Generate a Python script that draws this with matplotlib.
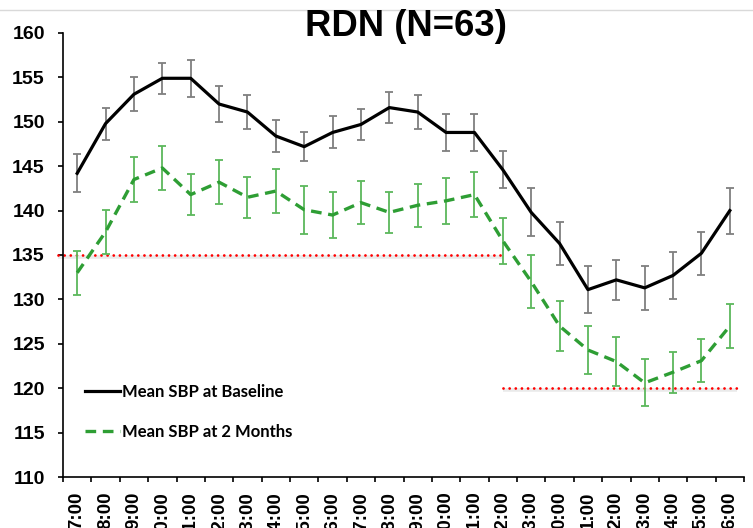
import matplotlib
matplotlib.use("Agg")
import matplotlib.pyplot as plt
from matplotlib.lines import Line2D

# ── Data: hourly mean SBP (mmHg) with error bars ─────────────────
HOURS = ["7:00", "8:00", "9:00", "10:00", "11:00", "12:00", "13:00", "14:00",
         "15:00", "16:00", "17:00", "18:00", "19:00", "20:00", "21:00", "22:00",
         "23:00", "0:00", "1:00", "2:00", "3:00", "4:00", "5:00", "6:00"]

sbp_baseline = [144.2, 149.8, 153.1, 154.9, 154.9, 152.0, 151.1, 148.4,
                147.2, 148.8, 149.7, 151.6, 151.1, 148.8, 148.8, 144.6,
                139.8, 136.3, 131.1, 132.2, 131.3, 132.7, 135.2, 140.0]
err_baseline = [2.15, 1.8, 1.9, 1.75, 2.1, 2.05, 1.9, 1.75,
                1.65, 1.8, 1.7, 1.7, 1.95, 2.1, 2.1, 2.1,
                2.7, 2.4, 2.65, 2.25, 2.5, 2.6, 2.4, 2.6]

sbp_2months = [133.0, 137.6, 143.5, 144.8, 141.8, 143.2, 141.5, 142.2,
               140.1, 139.5, 140.9, 139.8, 140.6, 141.1, 141.8, 136.6,
               132.0, 127.0, 124.3, 123.0, 120.6, 121.8, 123.1, 127.0]
err_2months = [2.45, 2.45, 2.55, 2.45, 2.35, 2.5, 2.3, 2.45,
               2.7, 2.6, 2.45, 2.35, 2.45, 2.6, 2.55, 2.6,
               3.0, 2.85, 2.7, 2.75, 2.65, 2.3, 2.45, 2.45]

# reference thresholds (day / night)
DAY_REF, NIGHT_REF = 135, 120

BOLD_FONT = "Liberation Sans"
LEGEND_FONT = "Lato"
TICK_SIZE = 13.5

fig = plt.figure(figsize=(7.53, 5.28), dpi=100)
ax = fig.add_axes([63 / 753, 1 - 477 / 528, 681 / 753, 444 / 528])

x = list(range(len(HOURS)))

# ── Threshold lines (dotted red with soft shadow) ────────────────
for xs, yv in [((-0.68, 15), DAY_REF), ((15, 23.25), NIGHT_REF)]:
    ax.plot(xs, [yv - 0.22, yv - 0.22], color="#dcdcdc", lw=2.6, alpha=0.6,
            solid_capstyle="butt", clip_on=False, zorder=1)
    ax.plot(xs, [yv, yv], color="#ff0000", lw=2.0, linestyle=(0, (0.01, 2.2)),
            dash_capstyle="round", clip_on=False, zorder=2)

# ── Series ───────────────────────────────────────────────────────
ax.errorbar(x, sbp_baseline, yerr=err_baseline, fmt="none", ecolor="#7f7f7f",
            elinewidth=1.3, capsize=2.6, capthick=1.3, zorder=3)
ax.plot(x, sbp_baseline, color="black", lw=2.3, zorder=5,
        label="Mean SBP at Baseline")

ax.errorbar(x, sbp_2months, yerr=err_2months, fmt="none", ecolor="#5cb85c",
            elinewidth=1.3, capsize=2.6, capthick=1.3, zorder=3)
ax.plot(x, sbp_2months, color="#2e9e34", lw=2.4, linestyle=(0, (3.2, 2.0)),
        zorder=4, label="Mean SBP at 2 Months")

# ── Axes styling ─────────────────────────────────────────────────
ax.set_xlim(-0.5, len(HOURS) - 0.5)
ax.set_ylim(110, 160)
ax.set_yticks(range(110, 161, 5))
ax.set_xticks(x)
ax.set_xticks([i - 0.5 for i in range(len(HOURS) + 1)], minor=True)
ax.set_xticklabels(HOURS, rotation=90, fontsize=TICK_SIZE, fontweight="bold",
                   family=BOLD_FONT, va="top")
for lbl in ax.get_yticklabels():
    lbl.set_fontsize(TICK_SIZE + 0.5)
    lbl.set_fontweight("bold")
    lbl.set_family(BOLD_FONT)

ax.tick_params(axis="x", which="major", length=0, pad=10.5)
ax.tick_params(axis="x", which="minor", length=3.6, width=1.2, direction="out")
ax.tick_params(axis="y", length=3.6, width=1.2, direction="out", pad=9.5)

for side in ["top", "right"]:
    ax.spines[side].set_visible(False)
for side in ["left", "bottom"]:
    ax.spines[side].set_linewidth(1.2)

leg = ax.legend(loc="center left", bbox_to_anchor=(22 / 681, 65 / 444),
                frameon=False, borderpad=0, borderaxespad=0,
                handlelength=2.1, handletextpad=0.15, labelspacing=1.45,
                prop={"family": LEGEND_FONT, "weight": "bold", "size": 12})

# ── Title and top rule ───────────────────────────────────────────
fig.add_artist(Line2D([0, 1], [1 - 10 / 528, 1 - 10 / 528],
                      transform=fig.transFigure, color="#d9d9d9", lw=1))
fig.text((63 + 744) / 2 / 753 + 0.003, 1 - 36 / 528, "RDN (N=63)", ha="center",
         va="baseline", fontsize=26.3, fontweight="bold", family=BOLD_FONT)

fig.savefig("out.png", dpi=100)
